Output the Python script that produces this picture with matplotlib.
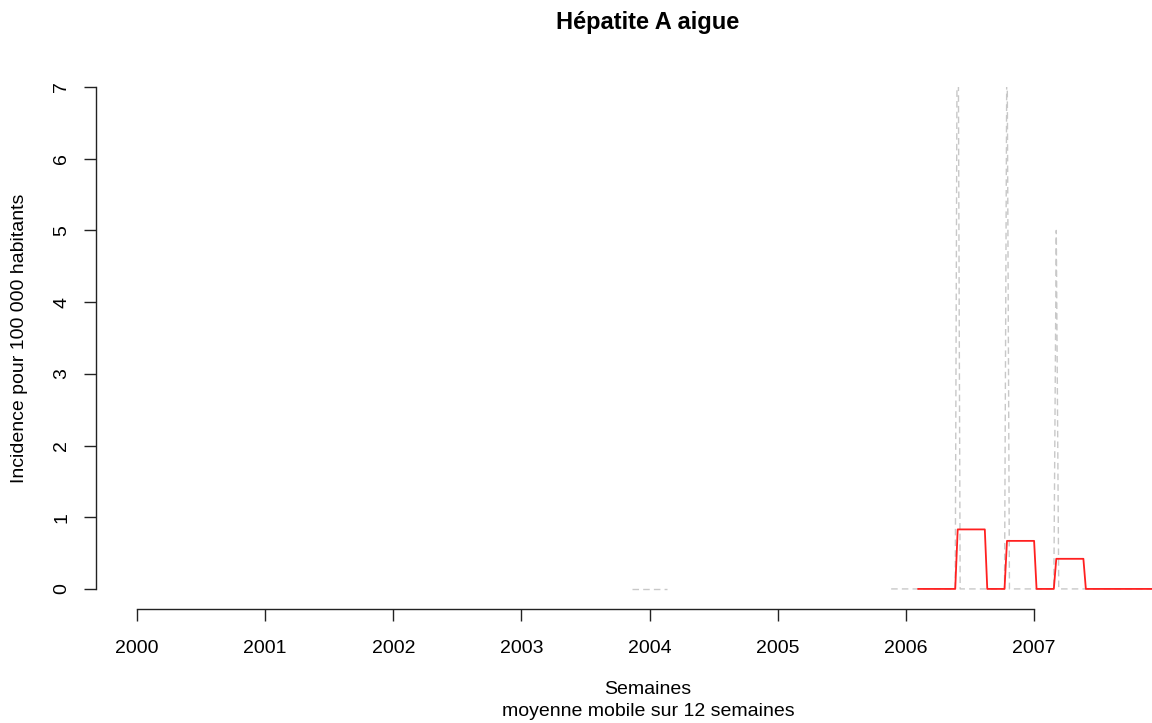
import numpy as np
import matplotlib
matplotlib.use("Agg")
import matplotlib.pyplot as plt

plt.rcParams['font.family'] = ['Liberation Sans', 'DejaVu Sans']

# weekly series, week index counted from the first week of 2000 (52 per year)
seg1_start = 201
seg1_vals = [0.0] * 15  # short run of zero weeks around the turn of 2004

seg2_start = 306
seg2_vals = [
    0, 0, 0, 0, 0, 0, 0, 0, 0, 0, 0, 0, 0, 0, 0, 0, 0, 0, 0, 0,
    0, 0, 0, 0, 0, 0, 0, 10.0, 0, 0, 0, 0, 0, 0, 0, 0, 0, 0, 0, 0,
    0, 0, 0, 0, 0, 0, 0, 8.0, 0, 0, 0, 0, 0, 0, 0, 0, 0, 0, 0, 0,
    0, 0, 0, 0, 0, 0, 0, 5.0, 0, 0, 0, 0, 0, 0, 0, 0, 0, 0, 0, 0,
    0, 0, 0, 0, 0, 0, 0, 0, 0, 0, 0, 0, 0, 0, 0, 0, 0, 0, 0, 0,
    0, 0, 0, 0, 0, 0, 0,
]

# 12-week moving average
ma_start = 317
ma_vals = [
    0, 0, 0, 0, 0, 0, 0, 0, 0, 0, 0, 0, 0, 0, 0, 0,
    0.83, 0.83, 0.83, 0.83, 0.83, 0.83, 0.83, 0.83, 0.83, 0.83, 0.83, 0.83,
    0, 0, 0, 0, 0, 0, 0, 0,
    0.67, 0.67, 0.67, 0.67, 0.67, 0.67, 0.67, 0.67, 0.67, 0.67, 0.67, 0.67,
    0, 0, 0, 0, 0, 0, 0, 0,
    0.42, 0.42, 0.42, 0.42, 0.42, 0.42, 0.42, 0.42, 0.42, 0.42, 0.42, 0.42,
    0, 0, 0, 0, 0, 0, 0, 0, 0, 0, 0, 0, 0, 0, 0, 0, 0, 0, 0, 0, 0, 0, 0, 0,
    0, 0, 0, 0,
]

years = [2000, 2001, 2002, 2003, 2004, 2005, 2006, 2007]
yticks = [0, 1, 2, 3, 4, 5, 6, 7]


def to_year(start, vals):
    return 2000 + (start + np.arange(len(vals))) / 52.0


fig = plt.figure(figsize=(11.52, 7.23), dpi=100)
# plot region: left edge at x=96px, bottom at y=609px, top clipped at y=87px
ax = fig.add_axes([96 / 1152, 1 - 609 / 723, 1 - 96 / 1152, (609 - 87) / 723])

dash = (0, (4.7, 3.0))
ax.plot(to_year(seg1_start, seg1_vals), seg1_vals, color='#c8c8c8', lw=1.0, ls=dash)
ax.plot(to_year(seg2_start, seg2_vals), seg2_vals, color='#c8c8c8', lw=1.0, ls=dash)
ax.plot(to_year(ma_start, ma_vals), ma_vals, color='#ff2020', lw=1.3)

ax.set_xlim(1999.68, 2007.92)
ax.set_ylim(-0.28, 7.0)

for s in ['top', 'right']:
    ax.spines[s].set_visible(False)
ax.spines['left'].set_bounds(0, 7)
ax.spines['bottom'].set_bounds(2000, 2007)
for s in ['left', 'bottom']:
    ax.spines[s].set_color('#222222')
    ax.spines[s].set_linewidth(1.0)

ax.set_xticks(years)
ax.set_xticklabels([str(y) for y in years])
ax.set_yticks(yticks)
ax.set_yticklabels([str(v) for v in yticks], rotation=90, va='center')
ax.tick_params(axis='both', length=8.6, width=1.0, color='#222222', labelsize=14)
ax.tick_params(axis='x', pad=14)
ax.tick_params(axis='y', pad=10)

fig.text(648 / 1152, 1 - 22 / 723, 'Hépatite A aigue', ha='center', va='center',
         fontsize=17, fontweight='bold')
fig.text(648 / 1152, 1 - 690 / 723, 'Semaines', ha='center', va='center', fontsize=14)
fig.text(648 / 1152, 1 - 711 / 723, 'moyenne mobile sur 12 semaines', ha='center',
         va='center', fontsize=14)
fig.text(20 / 1152, 1 - 338 / 723, 'Incidence pour 100 000 habitants', ha='center',
         va='center', rotation=90, fontsize=14)

fig.savefig('out.png', dpi=100)
